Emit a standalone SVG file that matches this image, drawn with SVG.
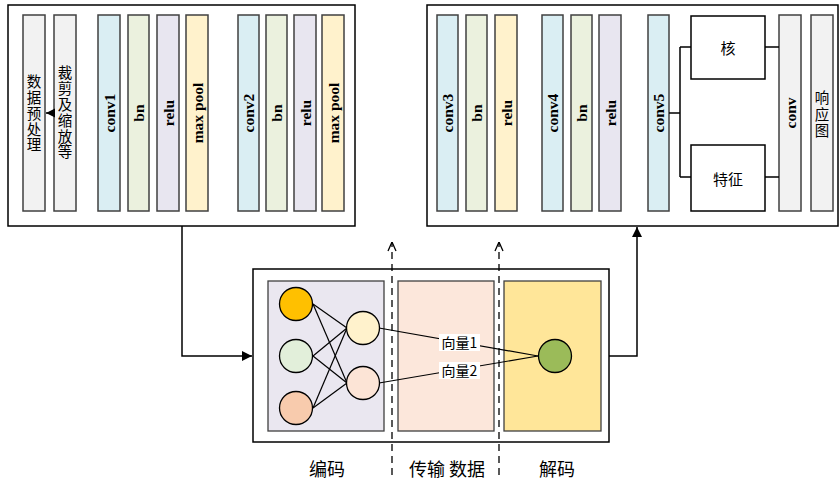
<svg xmlns="http://www.w3.org/2000/svg" width="839" height="481" viewBox="0 0 839 481">
<defs>
<style>
.frame{fill:#fff;stroke:#000;stroke-width:1.5}
.bar{stroke:#404040;stroke-width:1.5}
.blue{fill:#DAEEF3}.green{fill:#EBF1DE}.lav{fill:#E8E6F0}.yel{fill:#FFF2CC}.grey{fill:#F2F2F2}
.bt{font-family:"Liberation Serif",serif;font-weight:bold;font-size:15.5px;text-anchor:middle;dominant-baseline:central;fill:#000}
.ct{font-family:"Noto Sans CJK SC",sans-serif;font-size:14.5px;text-anchor:middle;dominant-baseline:central;fill:#000}
.vt{font-family:"Noto Sans CJK SC",sans-serif;font-size:14.5px;text-anchor:middle;writing-mode:vertical-rl;text-orientation:upright;letter-spacing:1.3px;fill:#000}
.lbl{font-family:"Noto Sans CJK SC",sans-serif;font-size:18px;text-anchor:middle;fill:#000}
.ln{fill:none;stroke:#000;stroke-width:1.5}
.dash{fill:none;stroke:#000;stroke-width:1.3;stroke-dasharray:7,5}
.circ{stroke:#000;stroke-width:1.3}
</style>
<marker id="ah" viewBox="0 0 10 10" refX="10" refY="5" markerWidth="10" markerHeight="10" markerUnits="userSpaceOnUse" orient="auto"><path d="M0,0 L10,5 L0,10 z" fill="#000"/></marker>
<marker id="oh" viewBox="0 0 10 10" refX="10" refY="5" markerWidth="10" markerHeight="10" markerUnits="userSpaceOnUse" orient="auto"><path d="M1,1 L10,5 L1,9" fill="none" stroke="#000" stroke-width="1.3"/></marker>
</defs>
<rect width="839" height="481" fill="#fff"/>

<g id="encoder-frame">
<rect class="frame" x="8" y="5" width="347" height="221"/>
</g>
<g id="preprocess"><rect class="bar grey" x="23" y="15" width="22" height="196"/>
<text class="vt" x="34" y="114">数据预处理</text></g>
<g id="crop"><rect class="bar grey" x="54" y="15" width="22" height="196"/>
<text class="vt" x="65" y="113">裁剪及缩放等</text></g>
<g id="conv1"><rect class="bar blue" x="98" y="15" width="22" height="196"/><text class="bt" transform="translate(109,113) rotate(-90)">conv1</text></g>
<g id="bn1"><rect class="bar green" x="128" y="15" width="21" height="196"/><text class="bt" transform="translate(138.5,113) rotate(-90)">bn</text></g>
<g id="relu1"><rect class="bar lav" x="157" y="15" width="22" height="196"/><text class="bt" transform="translate(168,113) rotate(-90)">relu</text></g>
<g id="pool1"><rect class="bar yel" x="186" y="15" width="22" height="196"/><text class="bt" transform="translate(197,113) rotate(-90)">max pool</text></g>
<g id="conv2"><rect class="bar blue" x="238" y="15" width="21" height="196"/><text class="bt" transform="translate(248.5,113) rotate(-90)">conv2</text></g>
<g id="bn2"><rect class="bar green" x="266" y="15" width="21" height="196"/><text class="bt" transform="translate(276.5,113) rotate(-90)">bn</text></g>
<g id="relu2"><rect class="bar lav" x="294" y="15" width="22" height="196"/><text class="bt" transform="translate(305,113) rotate(-90)">relu</text></g>
<g id="pool2"><rect class="bar yel" x="322" y="15" width="22" height="196"/><text class="bt" transform="translate(333,113) rotate(-90)">max pool</text></g>

<g id="decoder-frame">
<rect class="frame" x="427" y="5" width="411" height="221"/>
</g>
<g id="conv3"><rect class="bar blue" x="437" y="15" width="21" height="196"/><text class="bt" transform="translate(447.5,113) rotate(-90)">conv3</text></g>
<g id="bn3"><rect class="bar green" x="466" y="15" width="21" height="196"/><text class="bt" transform="translate(476.5,113) rotate(-90)">bn</text></g>
<g id="relu3"><rect class="bar yel" x="495" y="15" width="22" height="196"/><text class="bt" transform="translate(506,113) rotate(-90)">relu</text></g>
<g id="conv4"><rect class="bar blue" x="542" y="15" width="21" height="196"/><text class="bt" transform="translate(552.5,113) rotate(-90)">conv4</text></g>
<g id="bn4"><rect class="bar green" x="571" y="15" width="21" height="196"/><text class="bt" transform="translate(581.5,113) rotate(-90)">bn</text></g>
<g id="relu4"><rect class="bar lav" x="599" y="15" width="22" height="196"/><text class="bt" transform="translate(610,113) rotate(-90)">relu</text></g>
<g id="conv5"><rect class="bar blue" x="648" y="15" width="21" height="196"/><text class="bt" transform="translate(658.5,113) rotate(-90)">conv5</text></g>
<g id="kernel"><rect x="691" y="16" width="74" height="63" fill="#fff" stroke="#000" stroke-width="1.5"/><text class="ct" x="728" y="47" style="font-size:15px">核</text></g>
<g id="feature"><rect x="691" y="145" width="74" height="66" fill="#fff" stroke="#000" stroke-width="1.5"/><text class="ct" x="728" y="178" style="font-size:15px">特征</text></g>
<g id="conv"><rect class="bar grey" x="779" y="15" width="22" height="196"/><text class="bt" transform="translate(790,113) rotate(-90)">conv</text></g>
<g id="response"><rect class="bar grey" x="811" y="15" width="22" height="196"/>
<text class="vt" x="822" y="115" style="letter-spacing:2px">响应图</text></g>

<g id="codec-frame">
<rect class="frame" x="253" y="269" width="356" height="173"/>
</g>
<g id="encode-panel"><rect x="268" y="281" width="116" height="150" fill="#EAE7F0" stroke="#404040" stroke-width="1.3"/></g>
<g id="transmit-panel"><rect x="398" y="281" width="96" height="150" fill="#FCE7DB" stroke="#404040" stroke-width="1.3"/></g>
<g id="decode-panel"><rect x="504" y="281" width="97" height="150" fill="#FFE699" stroke="#404040" stroke-width="1.3"/></g>

<g id="connectors">
<path class="ln" d="M46,113 H54"/>
<path d="M46,113 L55,108.5 L55,117.5 z" fill="#000"/>
<path class="ln" d="M669,113 H680 M680,47 V177 M680,47 H691 M680,177 H691 M765,47 H779 M765,177 H779"/>
<path class="ln" d="M182,226 V356 H252" marker-end="url(#ah)"/>
<path class="ln" d="M609,356 H637 V227" marker-end="url(#ah)"/>
<path class="dash" d="M392,475 V242" marker-end="url(#oh)"/>
<path class="dash" d="M499,475 V242" marker-end="url(#oh)"/>
<g stroke="#000" stroke-width="1.2">
<line x1="313" y1="304" x2="347" y2="328"/><line x1="313" y1="304" x2="347" y2="383"/>
<line x1="313" y1="356" x2="347" y2="328"/><line x1="313" y1="356" x2="347" y2="383"/>
<line x1="313" y1="408" x2="347" y2="328"/><line x1="313" y1="408" x2="347" y2="383"/>
<line x1="379" y1="328" x2="538" y2="356"/><line x1="379" y1="383" x2="538" y2="356"/>
</g>
</g>

<g id="nodes-encode">
<circle class="circ" cx="296" cy="304" r="16.5" fill="#FFC000"/>
<circle class="circ" cx="296" cy="356" r="16.5" fill="#E2EFDA"/>
<circle class="circ" cx="296" cy="408" r="16.5" fill="#F8CBAD"/>
<circle class="circ" cx="363" cy="328" r="16.5" fill="#FFF2CC"/>
<circle class="circ" cx="363" cy="383" r="16.5" fill="#FCE4D6"/>
</g>
<g id="node-decode"><circle class="circ" cx="555" cy="356" r="16.5" fill="#9BBB59"/></g>
<g id="vec1"><rect x="439" y="334" width="41" height="17" fill="#fff"/><text x="459.5" y="348" style="font-family:'Noto Sans CJK SC',sans-serif;font-size:14px;text-anchor:middle">向量1</text></g>
<g id="vec2"><rect x="439" y="362" width="41" height="17" fill="#fff"/><text x="459.5" y="376" style="font-family:'Noto Sans CJK SC',sans-serif;font-size:14px;text-anchor:middle">向量2</text></g>

<g id="labels">
<text class="lbl" x="327" y="476">编码</text>
<text class="lbl" x="447" y="476">传输 数据</text>
<text class="lbl" x="557" y="476">解码</text>
</g>
</svg>
